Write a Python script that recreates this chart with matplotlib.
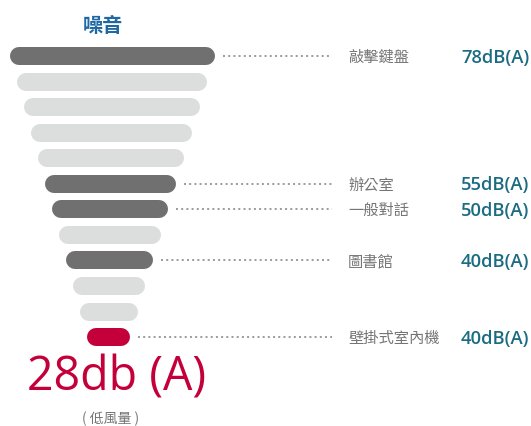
"""
Noise level funnel chart (噪音).
"""
import matplotlib
matplotlib.use("Agg")
import matplotlib.pyplot as plt

# bar lengths (px-ish units), top to bottom
bar_lengths = [205, 190, 176, 161, 146, 131, 116, 102, 87, 72, 58, 43]

# which bars carry a label
label_rows = [0, 5, 6, 8, 11]
label_names = ["敲擊鍵盤", "辦公室", "一般對話", "圖書館", "壁掛式室內機"]
label_values = ["78dB(A)", "55dB(A)", "50dB(A)", "40dB(A)", "40dB(A)"]

title = "噪音"
big_value = "28db (A)"
big_note = "( 低風量 )"

DARK = "#707070"
LIGHT = "#dcdddd"
RED = "#c4003a"
TEAL = "#1b6c82"
BLUE = "#1f68a3"
GREY = "#757575"
CJK = ["Noto Sans CJK TC", "DejaVu Sans"]

W, H = 531, 427
fig = plt.figure(figsize=(W / 100, H / 100), dpi=100)
ax = fig.add_axes([0, 0, 1, 1])
ax.set_xlim(0, W)
ax.set_ylim(H, 0)
ax.axis("off")

left0 = 10
left_step = 7
top_y = 57
step = 25.55
bar_h = 18
lw = bar_h * 72 / 100  # px -> points

for i, length in enumerate(bar_lengths):
    y = top_y + i * step
    if i == len(bar_lengths) - 1:
        color = RED
    elif i in label_rows:
        color = DARK
    else:
        color = LIGHT
    left = left0 + left_step * i
    x0 = left + bar_h / 2
    x1 = left + length - bar_h / 2
    ax.plot([x0, x1], [y, y], color=color, linewidth=lw, solid_capstyle="round")

for row, name, value in zip(label_rows, label_names, label_values):
    y = top_y + row * step
    x_end = left0 + left_step * row + bar_lengths[row]
    ax.plot([x_end + 8, 332], [y, y], color="#808080", linewidth=1.1,
            linestyle=(0, (1.3, 2.1)))
    ax.text(348, y + 0.5, name, family=CJK, fontsize=11,
            color=GREY, va="center", ha="left")
    ax.text(461, y + 0.5, value, family=["Open Sans", "DejaVu Sans"], fontsize=13.2,
            fontweight="semibold", color=TEAL, va="center", ha="left")

ax.text(103, 25, title, family=CJK, fontsize=14.5, fontweight="bold",
        color=BLUE, ha="center", va="center")
ax.text(117, 378, big_value, family=["Open Sans", "DejaVu Sans"], fontsize=33.5,
        color=RED, ha="center", va="center")
ax.text(111, 419, big_note, family=CJK, fontsize=10, color=GREY,
        ha="center", va="center")

fig.savefig("out.png", dpi=100)
plt.close(fig)
